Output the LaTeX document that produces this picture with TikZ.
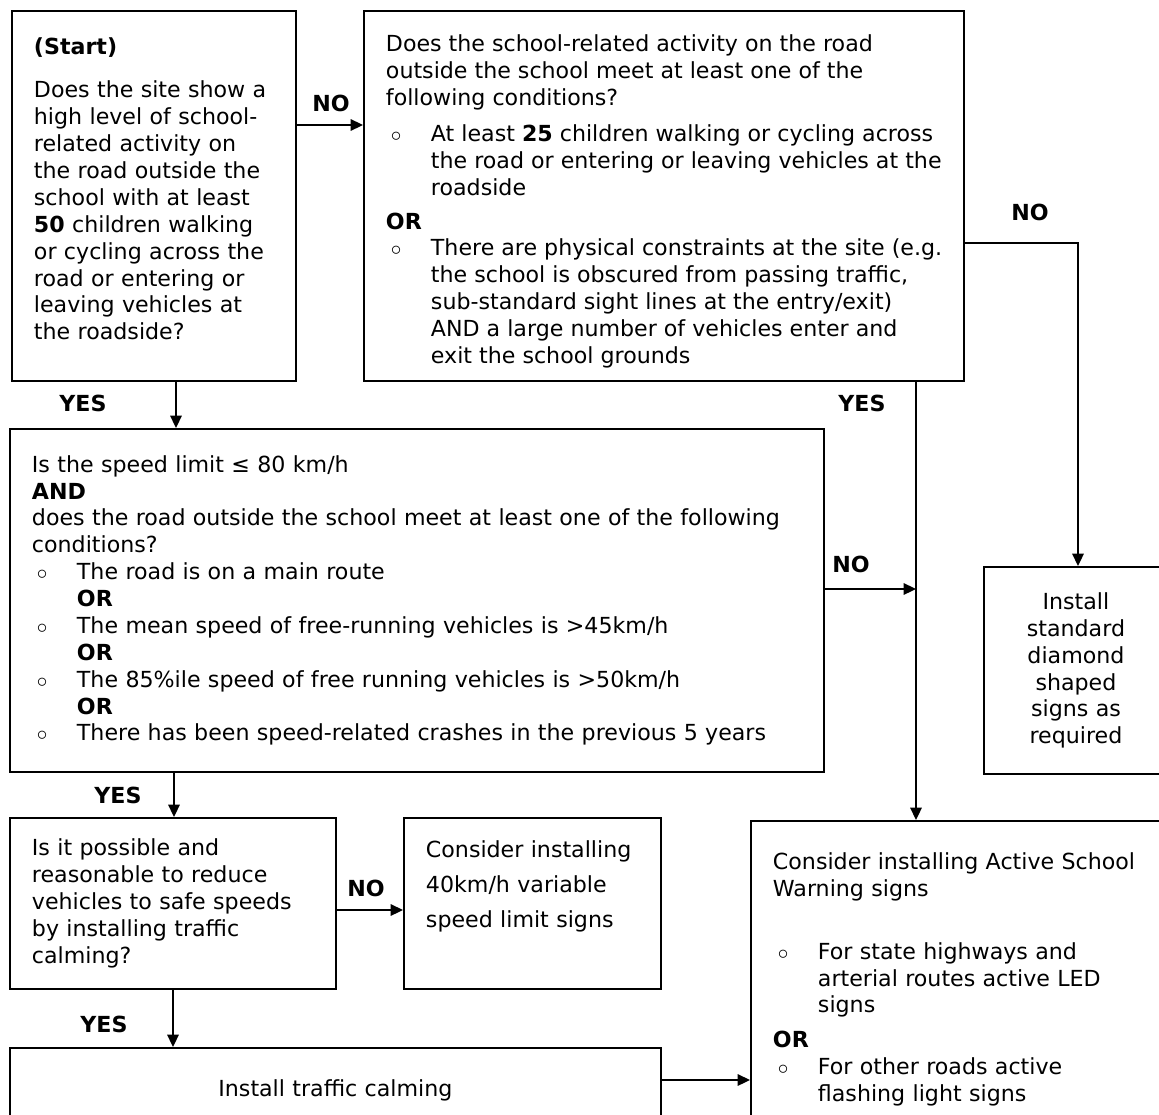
\documentclass[tikz,border=0pt]{standalone}
\usepackage{fontspec}
\setmainfont{DejaVu Sans}
\usetikzlibrary{arrows.meta}
\newlength\pxu \setlength\pxu{0.02cm}
\newcommand\boxfont{\fontsize{12.6pt}{15.3pt}\selectfont}
\newcommand\bulpt{\makebox[45\pxu][l]{\hspace*{5\pxu}$\circ$}}
\newcommand\bulind{\hspace*{45\pxu}}

\begin{document}
\begin{tikzpicture}[x=0.02cm, y=-0.02cm,
    box/.style={draw, line width=1.1pt, anchor=north west, inner xsep=0.44cm,
        inner ysep=0pt, align=left, font=\boxfont},
    lbl/.style={font=\boxfont\bfseries},
    arr/.style={line width=1pt, -{Triangle[length=7pt,width=6.5pt]}}]
    \useasboundingbox (0,0) rectangle (1159,1115);
    \clip (0,0) rectangle (1159,1115);
    % questions
    \node[box, text width=4.8cm, minimum width=5.68cm, minimum height=7.4cm] (start) at (11,10) {%
        {\bfseries (Start)}\\[0.32cm]
        Does the site show a\\
        high level of school-\\
        related activity on\\
        the road outside the\\
        school with at least\\
        {\bfseries 50} children walking\\
        or cycling across the\\
        road or entering or\\
        leaving vehicles at\\
        the roadside?\\[-0.26cm]\mbox{}};
    \node[box, minimum width=12cm, minimum height=7.4cm] (cond) at (363,10) {%
        \mbox{}\\[0.02cm]
        Does the school-related activity on the road\\
        outside the school meet at least one of the\\
        following conditions?\\[0.18cm]
        \bulpt At least {\bfseries 25} children walking or cycling across\\
        \bulind the road or entering or leaving vehicles at the\\
        \bulind roadside\\[0.14cm]
        {\bfseries OR}\\
        \bulpt There are physical constraints at the site (e.g.\\
        \bulind the school is obscured from passing traffic,\\
        \bulind sub-standard sight lines at the entry/exit)\\
        \bulind AND a large number of vehicles enter and\\
        \bulind exit the school grounds};
    \node[box, text width=15.4cm, minimum width=16.28cm, minimum height=6.86cm] (speed) at (9,428) {%
        Is the speed limit ≤ 80 km/h\\
        {\bfseries AND}\\
        does the road outside the school meet at least one of the following\\
        conditions?\\
        \bulpt The road is on a main route\\
        \bulind{\bfseries OR}\\
        \bulpt The mean speed of free-running vehicles is >45km/h\\
        \bulind{\bfseries OR}\\
        \bulpt The 85\%ile speed of free running vehicles is >50km/h\\
        \bulind{\bfseries OR}\\
        \bulpt There has been speed-related crashes in the previous 5 years};
    \node[box, text width=5.64cm, minimum width=6.52cm, minimum height=3.42cm] (calm) at (9,817) {%
        Is it possible and\\
        reasonable to reduce\\
        vehicles to safe speeds\\
        by installing traffic\\
        calming?};
    % outcomes
    \node[box, text width=4.26cm, minimum width=5.14cm, minimum height=3.42cm] (vsl) at (403,817) {%
        Consider installing\\[0.16cm]
        40km/h variable\\[0.16cm]
        speed limit signs\\[0.24cm]\mbox{}};
    \node[box, align=center, text width=12.14cm, minimum width=13.02cm, minimum height=1.68cm] (tcalm) at (9,1047) {Install traffic calming};
    \node[box, align=center, text width=2.8cm, minimum width=3.68cm, minimum height=4.14cm] (std) at (983,566) {%
        Install\\ standard\\ diamond\\ shaped\\ signs as\\ required};
    \node[box, text width=7.52cm, minimum width=8.4cm, minimum height=6.34cm] (active) at (750,820) {%
        Consider installing Active School\\
        Warning signs\\[0.72cm]
        \bulpt For state highways and\\
        \bulind arterial routes active LED\\
        \bulind signs\\[0.16cm]
        {\bfseries OR}\\
        \bulpt For other roads active\\
        \bulind flashing light signs};
    % answers
    \node[lbl] (no1) at (331,103) {NO};
    \node[lbl] (no2) at (1030,212) {NO};
    \node[lbl] (no3) at (851,564) {NO};
    \node[lbl] (no4) at (366,888) {NO};
    \node[lbl] (yes1) at (83,403) {YES};
    \node[lbl] (yes2) at (862,403) {YES};
    \node[lbl] (yes3) at (118,795) {YES};
    \node[lbl] (yes4) at (104,1024) {YES};
    \coordinate (join) at (916,589);
    \draw[arr] (start.east |- 0,125) -- (cond.west |- 0,125);
    \draw[arr] (cond.east |- 0,243) -| (1078,0 |- std.north);
    \draw[arr] (cond.south -| join) -- (active.north -| join);
    \draw[arr] (speed.east |- join) -- (join);
    \draw[arr] (start.south -| 176,0) -- (speed.north -| 176,0);
    \draw[arr] (speed.south -| 174,0) -- (calm.north -| 174,0);
    \draw[arr] (calm.east |- 0,910) -- (vsl.west |- 0,910);
    \draw[arr] (calm.south -| 173,0) -- (tcalm.north -| 173,0);
    \draw[arr] (tcalm.east |- 0,1080) -- (active.west |- 0,1080);
\end{tikzpicture}
\end{document}
